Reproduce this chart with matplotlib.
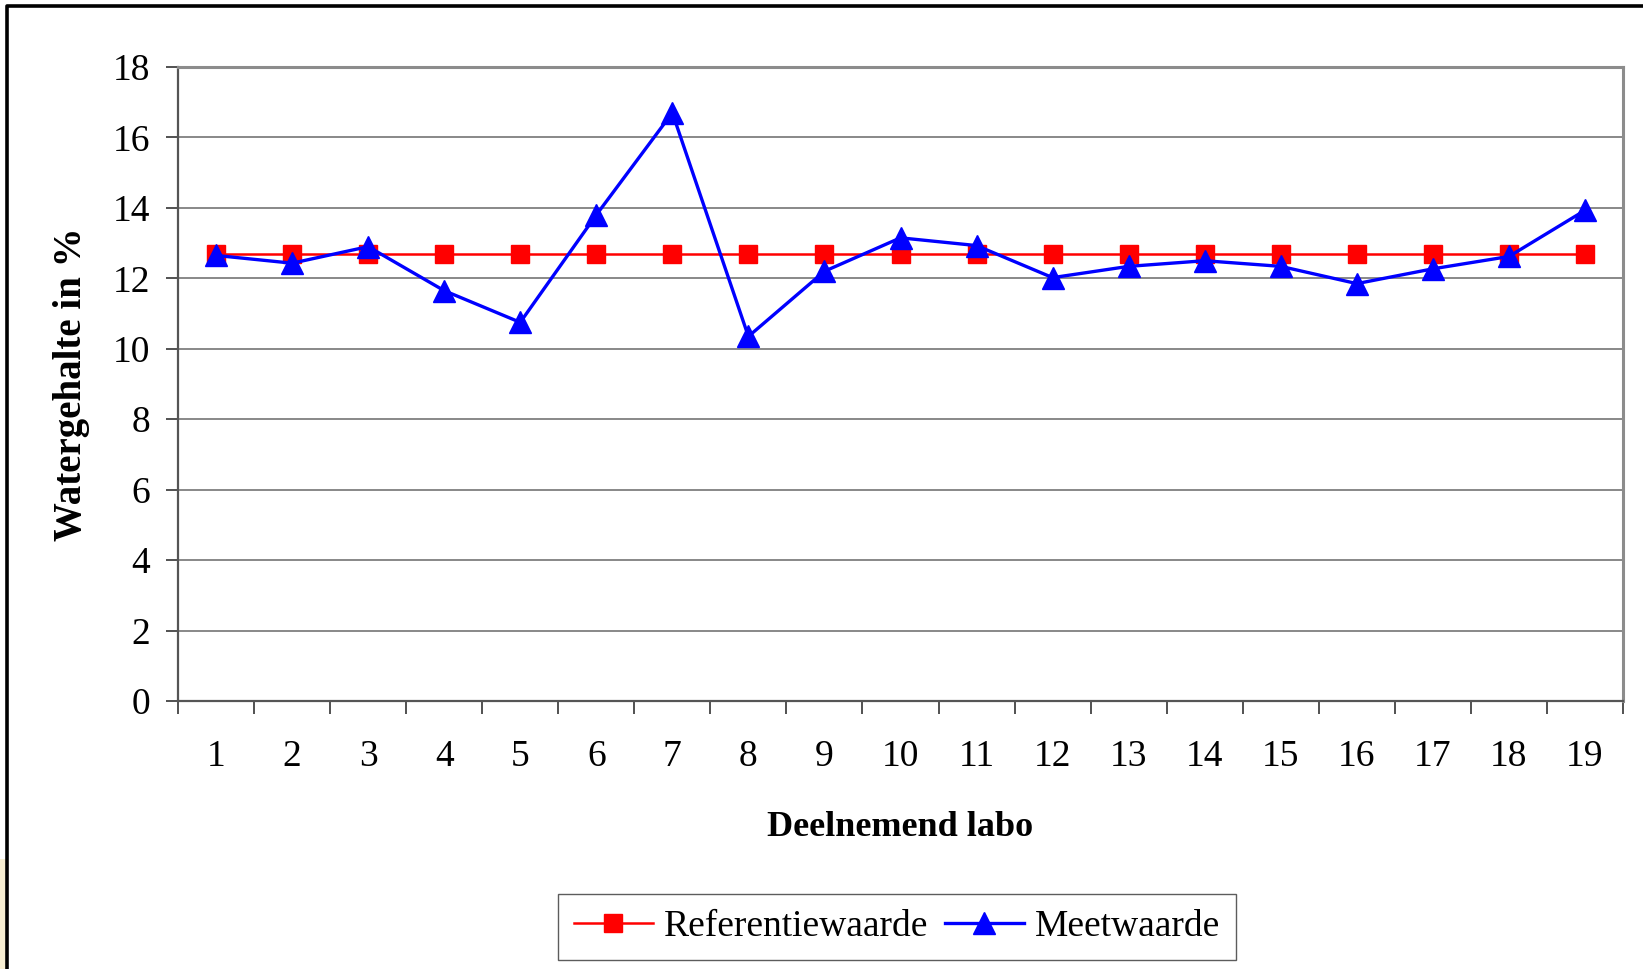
import numpy as np
import matplotlib.pyplot as plt
from matplotlib.lines import Line2D
from matplotlib.patches import Rectangle

plt.rcParams['font.family'] = ['Liberation Serif', 'DejaVu Serif']

labs = list(range(1, 20))
referentie = [12.7] * 19
meetwaarde = [12.65, 12.43, 12.9, 11.65, 10.75, 13.8, 16.7, 10.35, 12.2, 13.15,
              12.93, 12.02, 12.34, 12.5, 12.34, 11.85, 12.27, 12.62, 13.93]
y_ticks = list(range(0, 19, 2))

W, H = 1643, 969
fig = plt.figure(figsize=(W / 100, H / 100), dpi=100)
ax = fig.add_axes([178 / W, 1 - 701 / H, 1445 / W, 634 / H])

ax.plot(labs, referentie, color='red', lw=1.8, marker='s', ms=13,
        markeredgecolor='red', label='Referentiewaarde', zorder=3)
ax.plot(labs, meetwaarde, color='blue', lw=2.4, marker='^', ms=16,
        markeredgecolor='blue', label='Meetwaarde', zorder=4)

ax.set_xlim(0.5, 19.5)
ax.set_ylim(0, 18)
ax.set_yticks(y_ticks)
ax.yaxis.grid(True, color='#7f7f7f', lw=1.3)
ax.set_axisbelow(True)

# category ticks between labs, labels centered under each lab
ax.set_xticks(np.arange(0.5, 20, 1))
ax.set_xticklabels([])
ax.set_xticks(labs, minor=True)
ax.set_xticklabels([str(v) for v in labs], minor=True)
ax.tick_params(axis='x', which='major', direction='out', length=9, width=1.2, color='#333333')
ax.tick_params(axis='x', which='minor', length=0, pad=28, labelsize=27)
ax.tick_params(axis='y', direction='out', length=9, width=1.2, color='#333333',
               pad=11, labelsize=27)

for side in ['left', 'bottom']:
    ax.spines[side].set_color('#555555')
    ax.spines[side].set_linewidth(1.6)
for side in ['right', 'top']:
    ax.spines[side].set_color('#8c8c8c')
    ax.spines[side].set_linewidth(2.2)

ax.set_xlabel('Deelnemend labo', fontsize=26, fontweight='bold', va='center')
ax.xaxis.set_label_coords(0.5, -0.2)
ax.set_ylabel('Watergehalte in %', fontsize=28, fontweight='bold', va='center')
ax.yaxis.set_label_coords(-0.074, 0.5)

leg = fig.legend(loc='center', bbox_to_anchor=(897 / W, 1 - 927 / H), ncol=2,
                 fontsize=27, frameon=True, fancybox=False, edgecolor='#333333',
                 handlelength=2.1, handletextpad=0.3, columnspacing=0.45,
                 borderpad=0.42, borderaxespad=0)
leg.get_frame().set_linewidth(1.0)

# outer border of the chart object
fig.add_artist(Line2D([7 / W, 7 / W, 1.0], [0.0, 1 - 6 / H, 1 - 6 / H],
                      color='black', lw=2.6, transform=fig.transFigure))
fig.add_artist(Rectangle((0, 0), 5.5 / W, 110 / H, color='#f7eed2',
                         transform=fig.transFigure, lw=0))

fig.savefig('out.png', dpi=100)
